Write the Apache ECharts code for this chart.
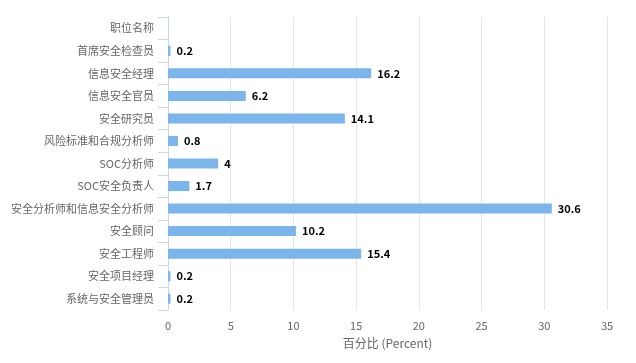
<!DOCTYPE html>
<html><head><meta charset="utf-8">
<script src="https://cdn.jsdelivr.net/npm/echarts@6/dist/echarts.min.js"></script>
<style>html,body{margin:0;padding:0;background:#fff}#c{width:636px;height:363px}</style>
</head><body><div id="c"></div>
<script>
const categories = ['职位名称','首席安全检查员','信息安全经理','信息安全官员','安全研究员','风险标准和合规分析师','SOC分析师','SOC安全负责人','安全分析师和信息安全分析师','安全顾问','安全工程师','安全项目经理','系统与安全管理员'];
const values = [null,0.2,16.2,6.2,14.1,0.8,4,1.7,30.6,10.2,15.4,0.2,0.2];
const xTicks = {min:0,max:35,interval:5};
const xName = '百分比 (Percent)';
const font = '"Noto Sans CJK SC", "Microsoft YaHei", sans-serif';
const chart = echarts.init(document.getElementById('c'));
chart.setOption({
  animation:false,
  grid:{left:168,right:29,top:17,bottom:53,containLabel:false},
  xAxis:{type:'value',min:xTicks.min,max:xTicks.max,interval:xTicks.interval,
    name:xName,nameLocation:'middle',nameGap:27,
    nameTextStyle:{color:'#666',fontSize:12,fontFamily:font},
    axisLine:{show:false},axisTick:{show:false},
    axisLabel:{color:'#666',fontSize:11,fontFamily:font,margin:10},
    splitLine:{lineStyle:{color:'#e6e6e6'}}},
  yAxis:{type:'category',data:categories,inverse:true,
    axisLine:{lineStyle:{color:'#ccd6eb'}},
    axisTick:{show:true,length:10,lineStyle:{color:'#ccd6eb'}},
    axisLabel:{color:'#666',fontSize:11,fontFamily:font,margin:14}},
  series:[{type:'bar',data:values,barWidth:10,
    itemStyle:{color:'#7cb5ec'},
    label:{show:true,position:'right',distance:6,color:'#000',fontWeight:'bold',fontSize:11,fontFamily:font}}]
});
</script></body></html>
